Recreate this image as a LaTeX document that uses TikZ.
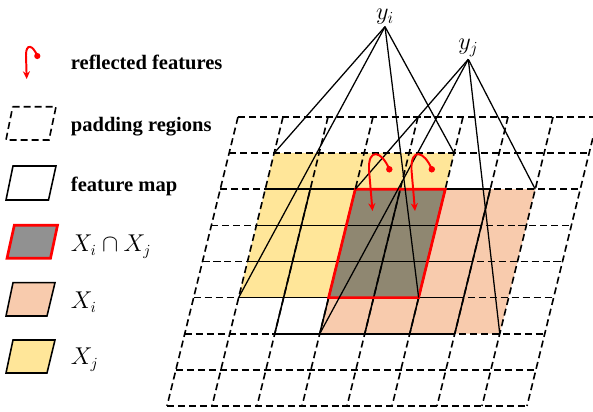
\documentclass[tikz,border=0pt]{standalone}
\usepackage{fontspec}
\setmainfont{Liberation Serif}
\usepackage{amsmath}
\usetikzlibrary{arrows.meta}

\definecolor{xjfill}{RGB}{255,230,153}
\definecolor{xifill}{RGB}{248,203,173}
\definecolor{capfill}{RGB}{143,135,113}
\definecolor{keygray}{RGB}{145,145,145}

\begin{document}
\begin{tikzpicture}[x=0.025cm,y=-0.025cm,
    padline/.style={line width=1.15pt,dash pattern=on 5pt off 2.8pt},
    featline/.style={line width=1.1pt},
    redline/.style={red,line width=1.9pt},
    ray/.style={line width=0.9pt},
    hook/.style={red,line width=1.4pt,-{Stealth[length=5.5pt,width=5pt]}},
    keytext/.style={anchor=base west,inner sep=0pt,font=\bfseries\fontsize{14.6}{16}\selectfont},
    keymath/.style={anchor=base west,inner sep=0pt,font=\fontsize{16}{19}\selectfont},
    apexlabel/.style={anchor=south,inner sep=1.5pt,font=\fontsize{17.5}{20}\selectfont}]
  \useasboundingbox (0,0) rectangle (593,412);

  % grid points: column c, line k
  \foreach \c in {0,...,8}
    \foreach \k in {0,...,8}
      \coordinate (g\c-\k) at ({238-8.875*\k+45*\c},{117+36.125*\k});

  % regions
  \fill[xjfill] (g1-1) -- (g5-1) -- (g5-5) -- (g1-5) -- cycle;
  \fill[xifill] (g3-2) -- (g7-2) -- (g7-6) -- (g3-6) -- cycle;
  \fill[capfill] (g3-2) -- (g5-2) -- (g5-5) -- (g3-5) -- cycle;

  % padding grid
  \foreach \k in {0,...,8}
    \draw[padline] (g0-\k) -- (g8-\k);
  \foreach \c in {0,...,8}
    \draw[padline] (g\c-0) -- (g\c-8);

  % feature map
  \foreach \c in {2,...,6}
    \draw[featline] (g\c-2) -- (g\c-6);
  \foreach \k in {2,...,5}
    \draw[featline] (g1-\k) -- (g6-\k);
  \draw[featline] (g2-6) -- (g6-6);

  \draw[redline] (g3-2) -- (g5-2) -- (g5-5) -- (g3-5) -- cycle;

  % outputs
  \coordinate (ti) at (385,26.7);
  \coordinate (tj) at (468.3,59.3);
  \node[apexlabel] (yi) at (ti) {$y_i$};
  \node[apexlabel] (yj) at (tj) {$y_j$};
  \foreach \p in {g1-1,g5-1,g1-5,g5-5}
    \draw[ray] (ti) -- (\p);
  \foreach \p in {g3-2,g7-2,g3-6,g7-6}
    \draw[ray] (tj) -- (\p);

  % reflected features
  \foreach \n/\dx in {1/0,2/42.5} {
    \coordinate (r\n) at (389.3+\dx,169.3);
    \coordinate (r\n e) at (372.5+\dx,211);
    \fill[red] (r\n) circle (2.3pt);
    \draw[hook] (r\n) .. controls (382+\dx,151) and (368+\dx,147) .. (369+\dx,170) -- (r\n e);
  }

  % legend
  \coordinate (k0) at (37.3,56);
  \coordinate (k0e) at (26.7,79);
  \fill[red] (k0) circle (2.2pt);
  \draw[hook] (k0) .. controls (33,45) and (26,43) .. (26,55) -- (k0e);
  \draw[padline] (12.7,106.7) -- (56,106.7) -- (49,140) -- (6,140) -- cycle;
  \draw[featline] (13,166) -- (56,166) -- (48.5,200) -- (6,200) -- cycle;
  \draw[redline,fill=keygray] (14.3,225.3) -- (57.5,225.3) -- (50.5,258.3) -- (7,258.3) -- cycle;
  \draw[featline,fill=xifill] (13,282.7) -- (55,282.7) -- (47,316) -- (6,316) -- cycle;
  \draw[featline,fill=xjfill] (13,340) -- (55,340) -- (47,373) -- (6,373) -- cycle;

  \node[keytext] (kref) at (70.7,70) {reflected features};
  \node[keytext] (kpad) at (70.7,131.5) {padding regions};
  \node[keytext] (kmap) at (70.7,191.5) {feature map};
  \node[keymath] (kcap) at (70.7,251.5) {$X_i\cap X_j$};
  \node[keymath] (kxi) at (70.7,308.5) {$X_i$};
  \node[keymath] (kxj) at (70.7,365) {$X_j$};
\end{tikzpicture}
\end{document}
